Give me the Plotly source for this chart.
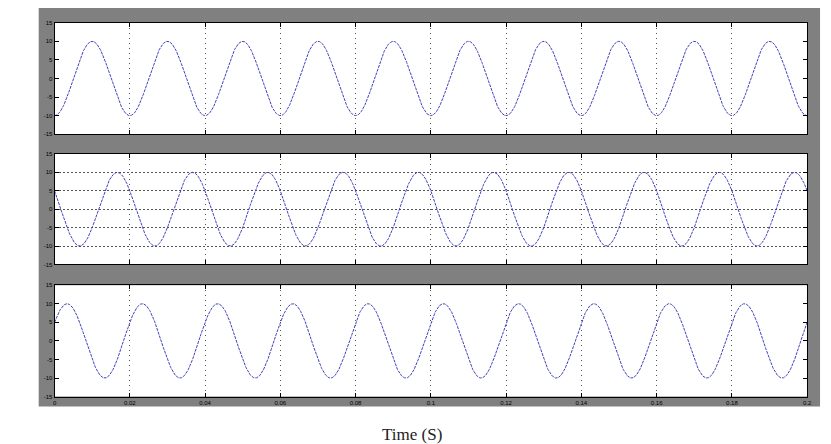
import numpy as np
import plotly.graph_objects as go
from plotly.subplots import make_subplots

# ---- data ----
x_ticks = [0, 0.02, 0.04, 0.06, 0.08, 0.1, 0.12, 0.14, 0.16, 0.18, 0.2]
x_tick_labels = ["0", "0.02", "0.04", "0.06", "0.08", "0.1", "0.12", "0.14", "0.16", "0.18", "0.2"]
y_ticks = [-15, -10, -5, 0, 5, 10, 15]
y_tick_labels = ["-15", "-10", "-5", "0", "5", "10", "15"]
amplitudes = [10, 10, 10]          # peak value of each phase
frequency_hz = 50                  # 10 cycles in 0.2 s
phases_deg = [180, 60, -60]        # phase of each panel at t = 0
t = np.linspace(0, 0.2, 2001)

W, H = 831, 444
def px(v): return v / W
def py(v): return 1 - v / H

panels = [(20, 133), (153, 265), (286, 399)]
x0, x1 = 53, 812

fig = make_subplots(rows=3, cols=1)
line_color = "#4040bc"
for i in range(3):
    y = amplitudes[i] * np.cos(2 * np.pi * frequency_hz * t + np.deg2rad(phases_deg[i]))
    fig.add_trace(go.Scatter(x=t, y=y, mode="lines",
                             line=dict(color=line_color, width=1, dash="3px,1px"),
                             showlegend=False), row=i + 1, col=1)

shapes = [dict(type="rect", xref="paper", yref="paper", x0=px(37), x1=px(825),
               y0=py(409), y1=py(5), fillcolor="#808080", line=dict(width=0), layer="below")]
for (top, bot) in panels:
    shapes.append(dict(type="rect", xref="paper", yref="paper", x0=px(x0), x1=px(x1),
                       y0=py(bot), y1=py(top), fillcolor="white", line=dict(width=0), layer="below"))

layout = dict(width=W, height=H, margin=dict(l=0, r=0, t=0, b=0),
              paper_bgcolor="white", plot_bgcolor="rgba(0,0,0,0)",
              shapes=shapes, font=dict(family="Arial", size=6, color="black"))
for i, (top, bot) in enumerate(panels):
    xa = "xaxis" if i == 0 else f"xaxis{i+1}"
    ya = "yaxis" if i == 0 else f"yaxis{i+1}"
    layout[xa] = dict(domain=[px(x0), px(x1)], range=[0, 0.2], tickvals=x_ticks,
                      ticktext=x_tick_labels, showticklabels=(i == 2),
                      showline=True, mirror="ticks", linecolor="black", linewidth=1,
                      ticks="inside", ticklen=4, tickcolor="black",
                      showgrid=True, gridcolor="#555555", griddash="1px,4px", gridwidth=1,
                      zeroline=False, tickfont=dict(size=6, color="black"))
    layout[ya] = dict(domain=[py(bot), py(top)], range=[-15, 15], tickvals=y_ticks,
                      ticktext=y_tick_labels, showline=True, mirror="ticks",
                      linecolor="black", linewidth=1, ticks="inside", ticklen=4,
                      tickcolor="black", showgrid=(i == 1), gridcolor="#555555",
                      griddash="2px,2px", gridwidth=1, zeroline=False,
                      tickfont=dict(size=6, color="black"))
fig.update_layout(**layout)
fig.add_annotation(text="Time (S)", xref="paper", yref="paper", x=px(413), y=py(437),
                   xanchor="center", yanchor="middle", showarrow=False,
                   font=dict(family="Liberation Serif", size=17, color="#222"))
fig.write_html("out.html")
